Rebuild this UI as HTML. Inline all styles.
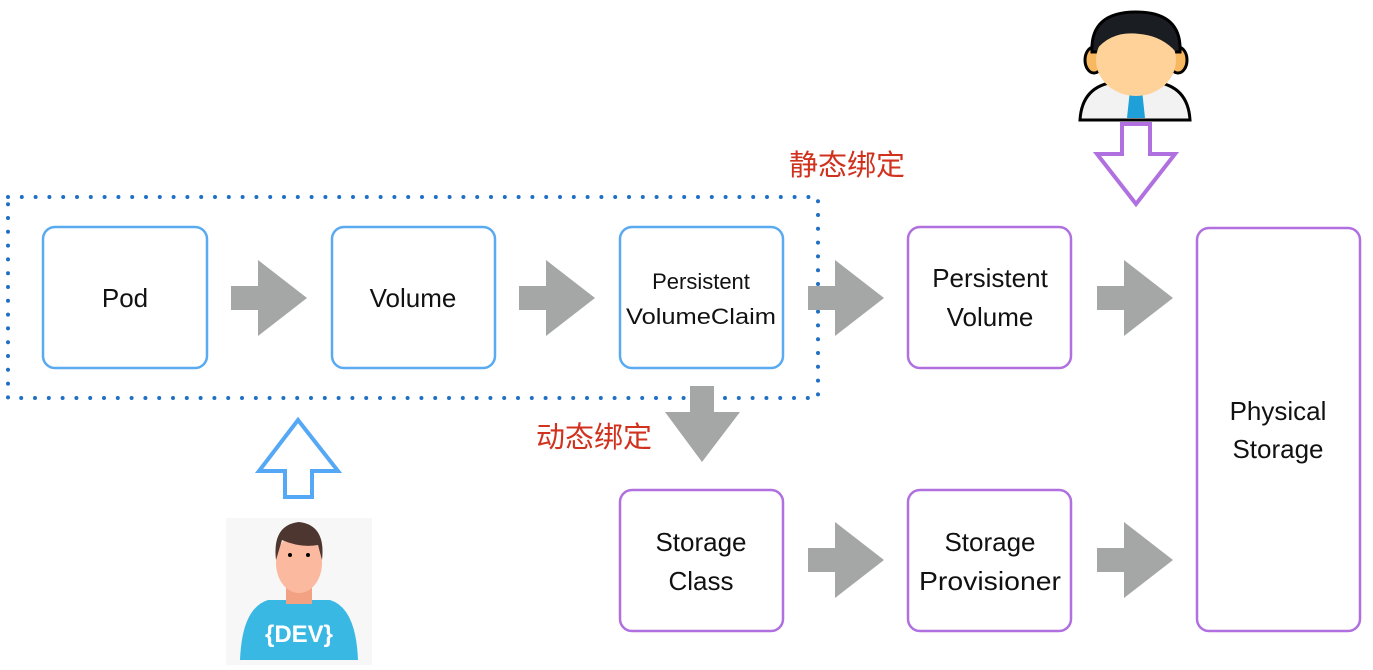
<!DOCTYPE html>
<html><head><meta charset="utf-8"><style>
html,body{margin:0;padding:0;background:#fff;width:1373px;height:670px;overflow:hidden}
</style></head><body>
<svg width="1373" height="670" viewBox="0 0 1373 670" xmlns="http://www.w3.org/2000/svg" font-family="Liberation Sans, DejaVu Sans, sans-serif">
<defs>
<g id="ar"><path d="M0,-12 H27 V-38 L76,0 L27,38 V12 H0 Z" fill="#a5a7a6"/></g>
</defs>
<rect x="8" y="197" width="810" height="201" fill="none" stroke="#1f6fc4" stroke-width="4" stroke-dasharray="0 13.8" stroke-linecap="round"/>
<g fill="none" stroke-width="2.5">
<rect x="43" y="227" width="164" height="141" rx="12" stroke="#5aaaf2"/>
<rect x="332" y="227" width="163" height="141" rx="12" stroke="#5aaaf2"/>
<rect x="620" y="227" width="163" height="141" rx="12" stroke="#5aaaf2"/>
<rect x="908" y="227" width="163" height="141" rx="12" stroke="#b070e0"/>
<rect x="620" y="490" width="163" height="141" rx="12" stroke="#b070e0"/>
<rect x="908" y="490" width="163" height="141" rx="12" stroke="#b070e0"/>
<rect x="1197" y="228" width="163" height="403" rx="12" stroke="#b070e0"/>
</g>
<use href="#ar" x="231" y="298"/>
<use href="#ar" x="519" y="298"/>
<use href="#ar" x="808" y="298"/>
<use href="#ar" x="1097" y="298"/>
<use href="#ar" x="808" y="560"/>
<use href="#ar" x="1097" y="560"/>
<path d="M690,386 H714 V412 H740 L702,462 L665,412 H690 Z" fill="#a5a7a6"/>
<g font-size="26" fill="#111" text-anchor="middle">
<text x="125" y="307">Pod</text>
<text x="413" y="307">Volume</text>
<text x="701" y="289" font-size="22">Persistent</text>
<text x="701" y="324" font-size="22" textLength="150" lengthAdjust="spacingAndGlyphs">VolumeClaim</text>
<text x="990" y="287">Persistent</text>
<text x="990" y="326">Volume</text>
<text x="701" y="551">Storage</text>
<text x="701" y="590">Class</text>
<text x="990" y="551">Storage</text>
<text x="990" y="590" textLength="142" lengthAdjust="spacingAndGlyphs">Provisioner</text>
<text x="1278" y="420">Physical</text>
<text x="1278" y="458">Storage</text>
</g>
<g font-size="29" fill="#d0321e" font-family="Liberation Sans, Noto Sans CJK SC, sans-serif">
<text x="789" y="175">静态绑定</text>
<text x="536" y="447">动态绑定</text>
</g>
<path d="M1122,124 H1150 V154 H1175 L1136,204 L1097,154 H1122 Z" fill="#fff" stroke="#b070e0" stroke-width="4"/>
<path d="M285,497 H312 V471 H338 L298,420 L259,471 H285 Z" fill="#fff" stroke="#55a8f5" stroke-width="4"/>
<g>
<path d="M1080,120 Q1082,86 1115,82 L1155,82 Q1188,86 1190,120 Z" fill="#f2f2f2" stroke="#000" stroke-width="3"/>
<path d="M1130,90 L1142,90 L1145,118 L1127,118 Z" fill="#1fa0d8"/>
<ellipse cx="1094" cy="60" rx="9" ry="13" fill="#f8b860" stroke="#000" stroke-width="3"/>
<ellipse cx="1178" cy="60" rx="9" ry="13" fill="#f8b860" stroke="#000" stroke-width="3"/>
<path d="M1092,52 Q1090,12 1136,12 Q1182,12 1180,52 Z" fill="#1a1d22" stroke="#000" stroke-width="3"/>
<ellipse cx="1136" cy="60" rx="40" ry="36" fill="#ffd29a"/>
<path d="M1096,50 Q1112,30 1140,34 Q1162,36 1176,52 L1176,40 Q1162,18 1136,18 Q1106,18 1096,40 Z" fill="#1a1d22"/>
</g>
<g>
<rect x="226" y="518" width="146" height="147" fill="#f7f7f7"/>
<path d="M240,660 Q242,608 268,600 L330,600 Q356,608 358,660 Z" fill="#3ab8e4"/>
<rect x="286" y="580" width="26" height="24" fill="#f2a282"/>
<ellipse cx="299" cy="563" rx="23" ry="30" fill="#fbb9a0"/>
<path d="M276,560 Q272,525 299,522 Q326,525 322,560 L318,545 Q300,548 282,540 Z" fill="#4d3530"/>
<circle cx="290" cy="555" r="2" fill="#000"/><circle cx="308" cy="555" r="2" fill="#000"/>
<text x="299" y="642" font-size="24" font-weight="bold" fill="#fff" text-anchor="middle">{DEV}</text>
</g>
</svg>
</body></html>
